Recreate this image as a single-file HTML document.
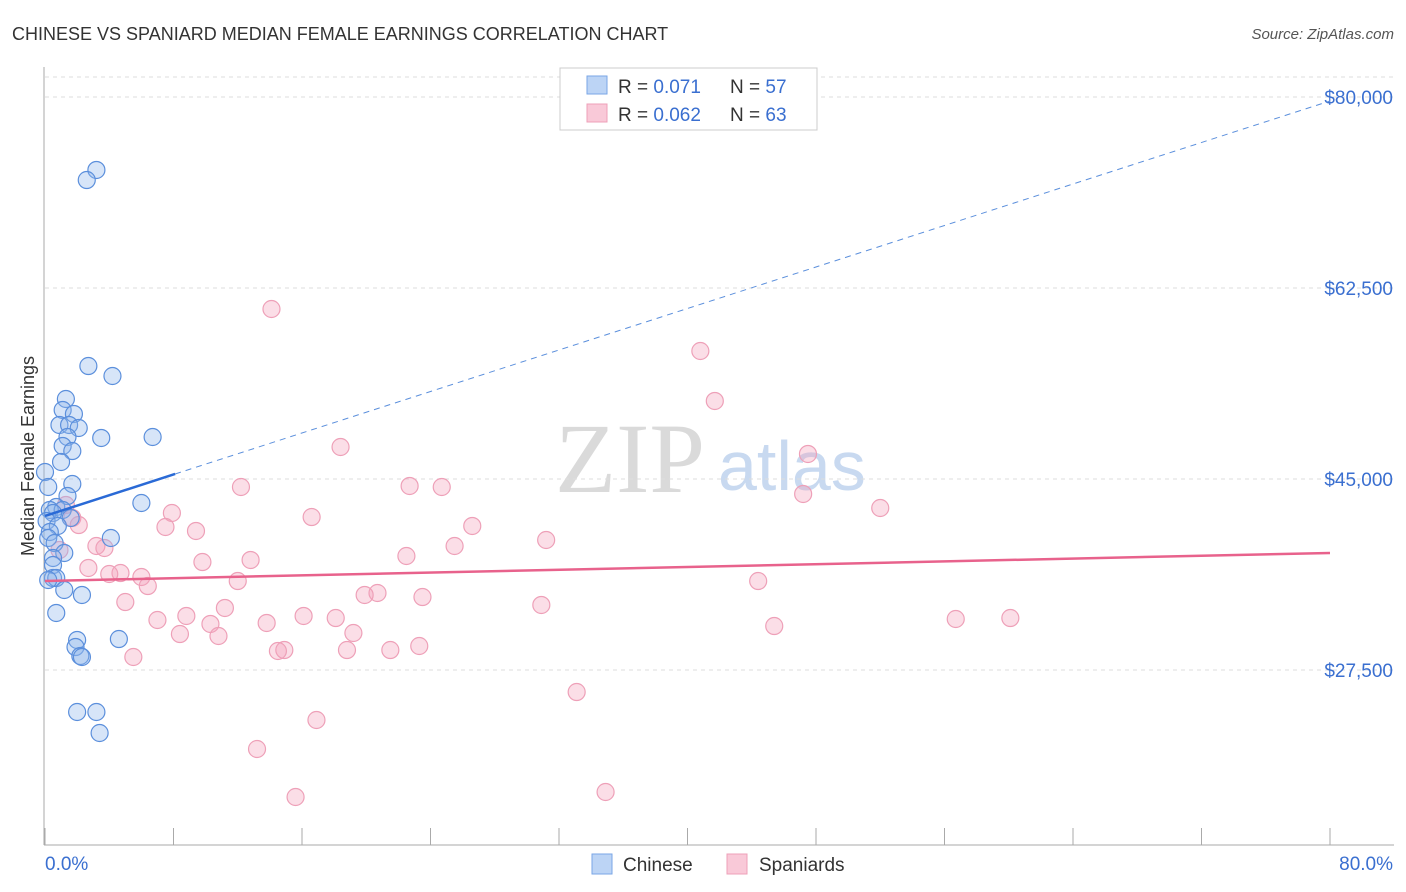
<!DOCTYPE html>
<html><head><meta charset="utf-8"><style>
body{margin:0;background:#fff;font-family:"Liberation Sans",sans-serif;}
#wrap{position:relative;width:1406px;height:892px;overflow:hidden;}
</style></head><body>
<div id="wrap">
<svg id="svg" width="1406" height="892"></svg>
</div>
<script>
const blueX=[3.2,2.6,2.7,4.2,1.3,1.1,1.8,0.9,1.5,2.1,1.4,3.5,6.7,1.1,1.7,1.0,0.0,1.7,0.2,1.4,6.0,0.7,0.3,1.1,0.5,1.6,0.1,0.8,0.3,4.1,0.2,0.6,1.2,0.5,0.5,0.5,0.7,0.2,1.2,2.3,0.7,2.0,4.6,1.9,2.2,2.3,2.0,3.2,3.4];
const blueY=[73312,72395,55353,54437,52330,51322,50956,49948,49948,49673,48848,48757,48848,48024,47565,46558,45641,44542,44267,43442,42801,42435,42160,42160,41885,41427,41152,40694,40144,39594,39594,39135,38220,37762,37120,35929,35929,35746,34830,34372,32723,30249,30340,29607,28783,28691,23652,23652,21728];
const pinkX=[14.1,40.8,41.7,18.4,47.5,12.2,22.7,24.7,47.2,52.0,7.9,16.6,1.3,1.7,2.1,7.5,26.6,9.4,31.2,3.2,3.7,0.9,25.5,22.5,12.8,9.8,2.7,4.7,4.0,6.0,12.0,44.4,6.4,20.7,19.9,23.5,5.0,30.9,11.2,8.8,16.1,7.0,18.1,10.3,13.8,45.4,56.7,60.1,8.4,10.8,19.2,14.9,14.5,18.8,21.5,23.3,5.5,16.9,33.1,13.2,15.6,34.9];
const pinkY=[60576,56728,52147,47932,47291,44267,44359,44267,43626,42343,41885,41518,42618,41427,40785,40602,40694,40236,39411,38861,38678,38495,38861,37945,37579,37395,36846,36387,36296,36021,35654,35654,35196,34555,34372,34188,33730,33456,33181,32448,32448,32081,32264,31715,31807,31531,32173,32264,30798,30615,30890,29332,29241,29332,29332,29699,28691,22919,25484,20262,15864,16322];
const trendBlue=[41611,79634];
const trendPink=[35656,38222];
const yTicks=[27500,45000,62500,80000];
const yTickLabels=["$27,500","$45,000","$62,500","$80,000"];
const xTicks=[0,8,16,24,32,40,48,56,64,72,80];
const NS="http://www.w3.org/2000/svg";
const svg=document.getElementById('svg');
const xs=v=>45+v*16.0625;
const ys=v=>97+(80000-v)*191/17500;
function el(t,a,p){const e=document.createElementNS(NS,t);for(const k in a)e.setAttribute(k,a[k]);(p||svg).appendChild(e);return e;}
let t;
t=el('text',{x:12,y:40,'font-size':18,fill:'#333'});t.textContent="CHINESE VS SPANIARD MEDIAN FEMALE EARNINGS CORRELATION CHART";


t=el('text',{x:1394,y:39,'font-size':15,fill:'#555','font-style':'italic','text-anchor':'end'});t.textContent="Source: ZipAtlas.com";


t=el('text',{x:555,y:492,'font-size':100,fill:'#dadada','font-family':'Liberation Serif, serif'});t.textContent="ZIP";


t=el('text',{x:718,y:490,'font-size':70,fill:'#c8d9f0'});t.textContent="atlas";


yTicks.forEach((v,i)=>{
 const g=el('line',{x1:45,x2:1394,y1:ys(v),y2:ys(v),stroke:'#ddd','stroke-dasharray':'4,4'});
 
 
 const l=el('text',{x:1393,y:ys(v)+7,'font-size':19,fill:'#3a6fd0','text-anchor':'end'});l.textContent=yTickLabels[i];
 
 
});
el('line',{x1:45,x2:1394,y1:77,y2:77,stroke:'#ddd','stroke-dasharray':'4,4'});
let a=el('line',{x1:44,x2:44,y1:67,y2:845,stroke:'#aaa'});


a=el('line',{x1:44,x2:1394,y1:845,y2:845,stroke:'#aaa'});


xTicks.forEach(v=>{const k=el('line',{x1:xs(v),x2:xs(v),y1:828,y2:845,stroke:'#aaa'});
 
 });
t=el('text',{x:45,y:870,'font-size':19,fill:'#3a6fd0'});t.textContent="0.0%";


t=el('text',{x:1393,y:870,'font-size':19,fill:'#3a6fd0','text-anchor':'end'});t.textContent="80.0%";


t=el('text',{x:34,y:456,'font-size':18,fill:'#333','text-anchor':'middle',transform:'rotate(-90 34 456)'});t.textContent="Median Female Earnings";


pinkX.forEach((x,i)=>{const c=el('circle',{cx:xs(x),cy:ys(pinkY[i]),r:8.5,fill:'rgba(244,160,185,0.35)',stroke:'#eea0b8','stroke-width':1.2});
 
 });
blueX.forEach((x,i)=>{const c=el('circle',{cx:xs(x),cy:ys(blueY[i]),r:8.5,fill:'rgba(140,180,235,0.35)',stroke:'#5b8fdc','stroke-width':1.2});
 
 });
const bAt=v=>trendBlue[0]+(trendBlue[1]-trendBlue[0])*v/80;
let ln=el('line',{x1:xs(8.1),y1:ys(bAt(8.1)),x2:xs(80),y2:ys(bAt(80)),stroke:'#5b8fdc','stroke-width':1,'stroke-dasharray':'6,5'});


ln=el('line',{x1:xs(0),y1:ys(bAt(0)),x2:xs(8.1),y2:ys(bAt(8.1)),stroke:'#2a6ad6','stroke-width':2.5});


ln=el('line',{x1:xs(0),y1:ys(trendPink[0]),x2:xs(80),y2:ys(trendPink[1]),stroke:'#e8628c','stroke-width':2.5});


const lg=el('g',{});


el('rect',{x:560,y:68,width:257,height:62,fill:'#fff',stroke:'#ccc'},lg);
el('rect',{x:587,y:76,width:20,height:18,fill:'#bcd4f5',stroke:'#7aa6e6'},lg);
el('rect',{x:587,y:104,width:20,height:18,fill:'#f9c9d8',stroke:'#eea0b8'},lg);
[["0.071","57",93],["0.062","63",121]].forEach(r=>{
 let x=el('text',{x:618,y:r[2],'font-size':19,fill:'#333'},lg);x.innerHTML='R = <tspan fill="#3a6fd0">'+r[0]+'</tspan>';
 x=el('text',{x:730,y:r[2],'font-size':19,fill:'#333'},lg);x.innerHTML='N = <tspan fill="#3a6fd0">'+r[1]+'</tspan>';
});
const bl=el('g',{});


el('rect',{x:592,y:854,width:20,height:20,fill:'#bcd4f5',stroke:'#7aa6e6'},bl);
t=el('text',{x:623,y:871,'font-size':19,fill:'#333'},bl);t.textContent="Chinese";
el('rect',{x:727,y:854,width:20,height:20,fill:'#f9c9d8',stroke:'#eea0b8'},bl);
t=el('text',{x:759,y:871,'font-size':19,fill:'#333'},bl);t.textContent="Spaniards";
</script>
</body></html>
